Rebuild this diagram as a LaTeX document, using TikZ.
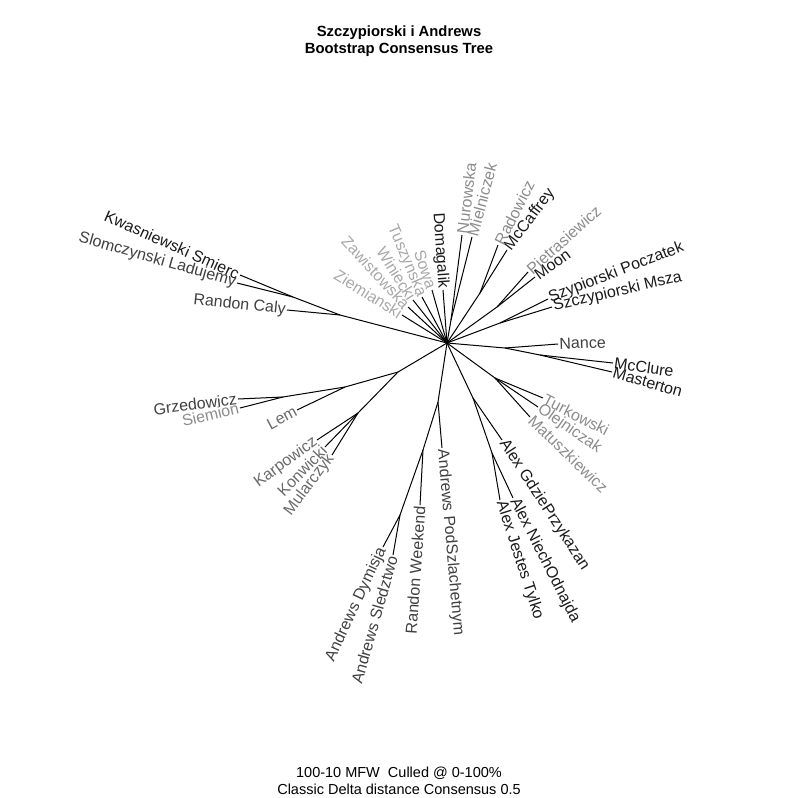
\documentclass[tikz,border=0pt]{standalone}
\usepackage{fontspec}
\setmainfont{Liberation Sans}
\usepackage{xcolor}
\usepackage{tikz}

\definecolor{inkA}{HTML}{1A1A1A}
\definecolor{inkB}{HTML}{404040}
\definecolor{inkC}{HTML}{6A6A6A}
\definecolor{inkD}{HTML}{8C8C8C}
\definecolor{inkE}{HTML}{A8A8A8}

\tikzset{
  lr/.style={anchor=west,rotate=#1},
  ll/.style={anchor=east,rotate=#1}
}

\begin{document}
\begin{tikzpicture}[x=1pt,y=1pt,line width=1pt,
  every node/.style={font=\fontsize{16pt}{18pt}\selectfont,inner sep=1pt}]
  \useasboundingbox (0,0) rectangle (796,-798);
  % centre and inner splits
  \coordinate (c)  at (447,-343);
  \coordinate (kw) at (293,-297);
  \coordinate (rc) at (340,-315);
  \coordinate (g0) at (398,-372);
  \coordinate (g1) at (345,-387);
  \coordinate (g2) at (283,-397);
  \coordinate (k0) at (358,-413);
  \coordinate (a0) at (438,-402);
  \coordinate (a1) at (423,-450);
  \coordinate (a2) at (400,-515);
  \coordinate (x0) at (473,-398);
  \coordinate (x1) at (492,-453);
  \coordinate (t0) at (495,-378);
  \coordinate (n0) at (505,-348);
  \coordinate (n1) at (540,-355);
  \coordinate (s0) at (500,-323);
  \coordinate (p0) at (497,-307);
  \coordinate (r0) at (480,-293);
  \coordinate (m0) at (451,-320);
  % tips
  \coordinate (kwa) at (240,-275);
  \coordinate (slo) at (237,-283);
  \coordinate (cal) at (287,-310);
  \coordinate (grz) at (238,-399);
  \coordinate (sie) at (240,-408);
  \coordinate (lem) at (297,-410);
  \coordinate (kar) at (317,-440);
  \coordinate (kon) at (325,-447);
  \coordinate (mul) at (332,-455);
  \coordinate (dym) at (383,-547);
  \coordinate (sle) at (393,-555);
  \coordinate (wee) at (420,-505);
  \coordinate (pod) at (442,-448);
  \coordinate (jes) at (500,-500);
  \coordinate (nie) at (513,-498);
  \coordinate (gdz) at (502,-440);
  \coordinate (mat) at (530,-417);
  \coordinate (ole) at (538,-407);
  \coordinate (tur) at (543,-398);
  \coordinate (mas) at (612,-372);
  \coordinate (mcc) at (613,-363);
  \coordinate (nan) at (558,-344);
  \coordinate (msz) at (552,-307);
  \coordinate (poc) at (548,-299);
  \coordinate (moo) at (535,-277);
  \coordinate (pie) at (528,-272);
  \coordinate (mcf) at (507,-250);
  \coordinate (rad) at (498,-245);
  \coordinate (mie) at (472,-237);
  \coordinate (nur) at (462,-235);
  \coordinate (dom) at (443,-290);
  \coordinate (sow) at (432,-290);
  \coordinate (tus) at (422,-297);
  \coordinate (win) at (413,-300);
  \coordinate (zaw) at (408,-307);
  \coordinate (zie) at (402,-315);
  % branches
  \draw (c) -- (rc) -- (kw) -- (kwa);
  \draw (kw) -- (slo);
  \draw (rc) -- (cal);
  \draw (c) -- (g0) -- (g1) -- (g2) -- (grz);
  \draw (g2) -- (sie);
  \draw (g1) -- (lem);
  \draw (g0) -- (k0) -- (kar);
  \draw (k0) -- (kon);
  \draw (k0) -- (mul);
  \draw (c) -- (a0) -- (pod);
  \draw (a0) -- (a1) -- (wee);
  \draw (a1) -- (a2) -- (dym);
  \draw (a2) -- (sle);
  \draw (c) -- (x0) -- (gdz);
  \draw (x0) -- (x1) -- (nie);
  \draw (x1) -- (jes);
  \draw (c) -- (t0) -- (tur);
  \draw (t0) -- (ole);
  \draw (t0) -- (mat);
  \draw (c) -- (n0) -- (nan);
  \draw (n0) -- (n1) -- (mcc);
  \draw (n1) -- (mas);
  \draw (c) -- (s0) -- (poc);
  \draw (s0) -- (msz);
  \draw (c) -- (p0) -- (pie);
  \draw (p0) -- (moo);
  \draw (c) -- (r0) -- (rad);
  \draw (r0) -- (mcf);
  \draw (c) -- (m0) -- (nur);
  \draw (m0) -- (mie);
  \draw (c) -- (dom);
  \draw (c) -- (sow);
  \draw (c) -- (tus);
  \draw (c) -- (win);
  \draw (c) -- (zaw);
  \draw (c) -- (zie);
  % labels
  \node[ll=-24,text=inkA] (Lkwa) at (kwa) {Kwasniewski Smierc};
  \node[ll=-16,text=inkB] (Lslo) at (slo) {Slomczynski Ladujemy};
  \node[ll=-6,text=inkB]  (Lcal) at (cal) {Randon Caly};
  \node[ll=7,text=inkB]   (Lgrz) at (grz) {Grzedowicz};
  \node[ll=13,text=inkD]  (Lsie) at (sie) {Siemion};
  \node[ll=28,text=inkC]  (Llem) at (lem) {Lem};
  \node[ll=36,text=inkC]  (Lkar) at (kar) {Karpowicz};
  \node[ll=46,text=inkC]  (Lkon) at (kon) {Konwicki};
  \node[ll=53,text=inkC]  (Lmul) at (mul) {Mularczyk};
  \node[ll=65,text=inkB]  (Ldym) at (dym) {Andrews Dymisja};
  \node[ll=74,text=inkB]  (Lsle) at (sle) {Andrews Sledztwo};
  \node[ll=86,text=inkB]  (Lwee) at (wee) {Randon Weekend};
  \node[lr=-85,text=inkB] (Lpod) at (pod) {Andrews PodSzlachetnym};
  \node[lr=-72,text=inkA] (Ljes) at (jes) {Alex Jestes Tylko};
  \node[lr=-63,text=inkA] (Lnie) at (nie) {Alex NiechOdnajda};
  \node[lr=-57,text=inkA] (Lgdz) at (gdz) {Alex GdziePrzykazan};
  \node[lr=-44,text=inkD] (Lmat) at (mat) {Matuszkiewicz};
  \node[lr=-35,text=inkD] (Lole) at (ole) {Olejniczak};
  \node[lr=-27,text=inkD] (Ltur) at (tur) {Turkowski};
  \node[lr=-16,text=inkA] (Lmas) at (mas) {Masterton};
  \node[lr=-8,text=inkA]  (Lmcc) at (mcc) {McClure};
  \node[lr=2,text=inkB]   (Lnan) at (nan) {Nance};
  \node[lr=13,text=inkA]  (Lmsz) at (msz) {Szczypiorski Msza};
  \node[lr=21,text=inkA]  (Lpoc) at (poc) {Szypiorski Poczatek};
  \node[lr=36,text=inkA]  (Lmoo) at (moo) {Moon};
  \node[lr=42,text=inkD]  (Lpie) at (pie) {Pietrasiewicz};
  \node[lr=53,text=inkA]  (Lmcf) at (mcf) {McCaffrey};
  \node[lr=63,text=inkD]  (Lrad) at (rad) {Radowicz};
  \node[lr=75,text=inkD]  (Lmie) at (mie) {Mielniczek};
  \node[lr=83,text=inkD]  (Lnur) at (nur) {Nurowska};
  \node[ll=-86,text=inkA] (Ldom) at (dom) {Domagalik};
  \node[ll=-72,text=inkE] (Lsow) at (sow) {Sowa};
  \node[ll=-67,text=inkE] (Ltus) at (tus) {Tuszynska};
  \node[ll=-58,text=inkE] (Lwin) at (win) {Winiecki};
  \node[ll=-47,text=inkE] (Lzaw) at (zaw) {Zawistowska};
  \node[ll=-32,text=inkE] (Lzie) at (zie) {Ziemianski};
  % titles
  \node[font=\fontsize{14.8pt}{17pt}\selectfont\bfseries,align=center] (title)
    at (399,-41) {Szczypiorski i Andrews\\Bootstrap Consensus Tree};
  \node[font=\fontsize{14.5pt}{16.5pt}\selectfont,align=center] (note)
    at (399,-781) {100-10 MFW\ \ Culled @ 0-100\%\\Classic Delta distance Consensus 0.5};
\end{tikzpicture}
\end{document}
